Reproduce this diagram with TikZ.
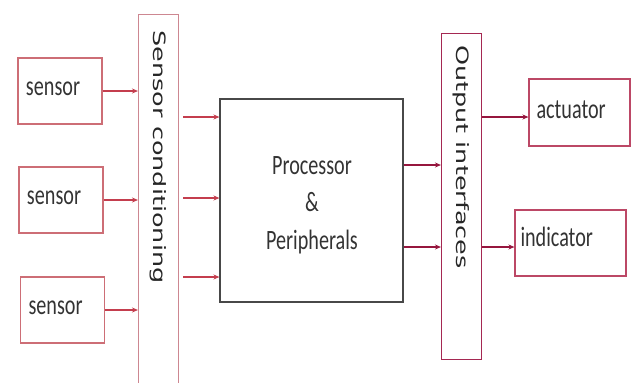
\documentclass[tikz,border=0pt]{standalone}
\usepackage{fontspec}
\usepackage{tikz}
\usetikzlibrary{positioning,calc,arrows.meta}
\newfontfamily\boxfont[FakeStretch=0.72]{Carlito}
\newfontfamily\barfont[FakeStretch=1.5]{DejaVu Sans}
\definecolor{senscol}{RGB}{205,110,118}
\definecolor{condcol}{RGB}{205,135,145}
\definecolor{inarrow}{RGB}{196,62,78}
\definecolor{proccol}{RGB}{72,72,72}
\definecolor{outcol}{RGB}{165,40,82}
\definecolor{outarrow}{RGB}{150,22,62}
\definecolor{actcol}{RGB}{188,72,102}

\begin{document}
\begin{tikzpicture}[x=1pt, y=-1pt, ->, >={Stealth[length=6pt,width=5pt]},
 box/.style = {draw, line width=1.1pt, inner sep=0pt, text height=10pt, text depth=4pt, font=\boxfont\fontsize{28}{34}\selectfont, text=black!80},
 sensbox/.style = {box, draw=senscol, minimum width=84pt, minimum height=66pt, text width=68pt, align=left, text depth=1pt},
 bar/.style = {draw, line width=1.1pt, minimum width=40pt, inner sep=0pt},
 bartext/.style = {rotate=-90, font=\barfont\fontsize{17}{20}\selectfont, text=black!85, inner sep=0pt},
 every edge/.append style={line width=1.1pt}]
\useasboundingbox (0,0) rectangle (633,383);

% sensors
\node[sensbox] (s1) at (60,91) {sensor};
\node[sensbox] (s2) at (61,200) {sensor};
\node[sensbox] (s3) at (62.5,310) {sensor};

% sensor conditioning
\node[bar, draw=condcol, minimum height=386pt, anchor=north] (cond) at (158.5,14) {};
\node[bartext] (condtxt) at (158.5,157) {Sensor conditioning};

% processor
\node[draw=proccol, line width=1.1pt, minimum width=183pt, minimum height=203pt, inner sep=0pt] (proc) at (311.5,200.5) {};
\node[align=center, inner sep=0pt, text=black!80, font=\boxfont\fontsize{28}{37.5}\selectfont] (proctxt) at (312,205) {Processor\\ \&\\ Peripherals};

% output interfaces
\node[bar, draw=outcol, minimum height=326pt, anchor=north] (out) at (461.5,33) {};
\node[bartext] (outtxt) at (461.5,157) {Output interfaces};

% actuator and indicator
\node[box, draw=actcol, minimum width=101pt, minimum height=67pt, text width=86pt, align=left, text height=13pt, text depth=2pt] (act) at (579.5,112.5) {actuator};
\node[box, draw=actcol, minimum width=111pt, minimum height=66pt, text width=100pt, align=left, text depth=3pt] (ind) at (570.5,243) {indicator};

\path
 (s1.east) edge[inarrow] (s1.east -| cond.west)
 (s2.east) edge[inarrow] (s2.east -| cond.west)
 (s3.east) edge[inarrow] (s3.east -| cond.west);
\coordinate (c0) at ($(cond.east)+(4,0)$);
\path
 (c0 |- 0,117) edge[inarrow] (proc.west |- 0,117)
 (c0 |- 0,198) edge[inarrow] (proc.west |- 0,198)
 (c0 |- 0,277) edge[inarrow] (proc.west |- 0,277);
\path
 (proc.east |- 0,165) edge[outarrow] (out.west |- 0,165)
 (proc.east |- 0,247) edge[outarrow] (out.west |- 0,247)
 (out.east |- 0,117) edge[outarrow] (act.west |- 0,117)
 (out.east |- 0,247) edge[outarrow] (ind.west |- 0,247);
\end{tikzpicture}
\end{document}
